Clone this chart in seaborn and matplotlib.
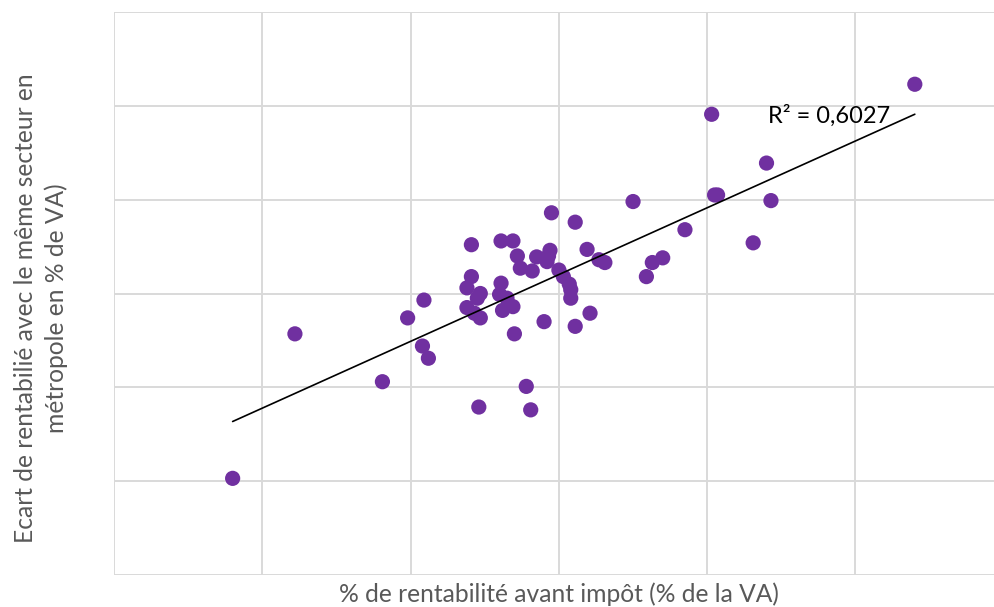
import numpy as np
import pandas as pd
import matplotlib
matplotlib.use("Agg")
import matplotlib.pyplot as plt
import seaborn as sns

# Data
rentabilite = [-2.0, 2.2, 8.1, 9.8, 10.9, 10.8, 11.2, 14.1, 14.1, 13.8,
               14.7, 14.5, 13.8, 14.3, 14.7, 14.6, 16.1, 16.9, 17.2, 17.4,
               18.2, 16.1, 16.0, 16.5, 16.2, 16.9, 17.0, 17.8, 18.1, 19.5,
               18.5, 19.2, 19.4, 19.3, 19.0, 21.1, 20.0, 20.3, 20.7, 20.8,
               20.8, 21.1, 22.1, 21.9, 22.7, 23.1, 25.0, 25.9, 26.3, 27.0,
               28.5, 30.3, 30.5, 30.7, 33.1, 34.0, 34.3, 44.0]
ecart = [-19.7, -4.3, -9.4, -2.6, -0.7, -5.6, -6.9, 5.2, 1.8, 0.6,
         0.0, -0.5, -1.5, -2.1, -2.6, -12.1, 5.6, 5.6, 4.0, 2.7,
         2.4, 1.1, -0.1, -0.5, -1.8, -1.4, -4.3, -9.9, -12.4, 8.6,
         3.9, 3.4, 4.6, 4.0, -3.0, 7.6, 2.5, 1.8, 1.0, 0.4,
         -0.5, -3.5, -2.1, 4.7, 3.6, 3.3, 9.8, 1.8, 3.3, 3.8,
         6.8, 19.1, 10.5, 10.5, 5.4, 13.9, 9.9, 22.3]
r2_label = "R² = 0,6027"
xlabel = "% de rentabilité avant impôt (% de la VA)"
ylabel = "Ecart de rentabilié avec le même secteur en\nmétropole en % de VA)"

df = pd.DataFrame({"x": rentabilite, "y": ecart})

sns.set_theme(style="white")
plt.rcParams["font.family"] = ["Lato", "DejaVu Sans"]

fig = plt.figure(figsize=(9.94, 6.07), dpi=100)
ax = fig.add_axes([114 / 994, 32 / 607, 1 - 114 / 994, (575 - 12) / 607])

grid_c = "#d9d9d9"
sns.regplot(data=df, x="x", y="y", ax=ax, ci=None,
            scatter_kws=dict(s=120, color="#7030A0", edgecolor="none", alpha=1, zorder=3),
            line_kws=dict(color="black", lw=1.2, zorder=4))

ax.set_xlim(-10, 49.34)
ax.set_ylim(-30, 30)
ax.set_xticks(np.arange(-10, 50, 10))
ax.set_yticks(np.arange(-30, 31, 10))
ax.set_xticklabels([])
ax.set_yticklabels([])
ax.tick_params(length=0)
ax.grid(True, color=grid_c, lw=1.4)
ax.set_axisbelow(True)
for s in ax.spines.values():
    s.set_visible(False)
ax.set_xlabel("")
ax.set_ylabel("")

ax.text(829 / 994, 1 - 116 / 607, r2_label, transform=fig.transFigure,
        ha="center", va="center", fontsize=17, color="black")
fig.text(559 / 994, 1 - 594 / 607, xlabel, ha="center", va="center",
         fontsize=17.7, color="#595959")
fig.text(41 / 994, 1 - 308 / 607, ylabel, ha="center", va="center",
         rotation=90, fontsize=17.7, color="#595959", linespacing=1.35,
         multialignment="center")

fig.savefig("out.png", dpi=100)
